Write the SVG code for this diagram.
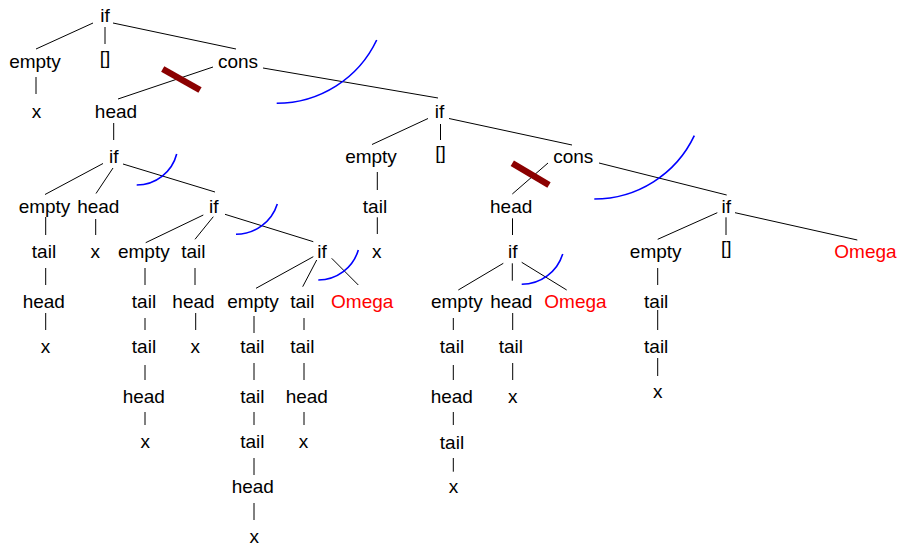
<svg xmlns="http://www.w3.org/2000/svg" width="901" height="548" viewBox="0 0 901 548">
<style>
text{font-family:"Liberation Sans",Arial,sans-serif;font-size:19px;fill:#000;text-anchor:middle}
text.om{fill:#ff0000}
#connectors line{stroke:#000;stroke-width:1}
.arc{fill:none;stroke:#0000ff;stroke-width:1.6}
.cut{stroke:#8b0000;stroke-width:6.5}
</style>
<rect width="901" height="548" fill="#fff"/>
<g id="connectors">
<line x1="93" y1="23" x2="36" y2="49"/>
<line x1="105" y1="27" x2="105" y2="44"/>
<line x1="113" y1="23" x2="236" y2="49"/>
<line x1="36" y1="77" x2="36" y2="94"/>
<line x1="213" y1="67" x2="118" y2="99"/>
<line x1="263" y1="68" x2="438" y2="98"/>
<line x1="113.7" y1="123" x2="113.7" y2="140"/>
<line x1="428" y1="118.5" x2="372" y2="144.5"/>
<line x1="440.5" y1="124" x2="440.5" y2="140"/>
<line x1="449" y1="118.5" x2="572" y2="145"/>
<line x1="103" y1="163.5" x2="45" y2="194.5"/>
<line x1="113" y1="168" x2="96" y2="193.5"/>
<line x1="123" y1="164" x2="215" y2="192"/>
<line x1="377.3" y1="172" x2="377.3" y2="190"/>
<line x1="548" y1="163" x2="512.3" y2="194"/>
<line x1="599" y1="163" x2="726.7" y2="195"/>
<line x1="45.7" y1="217" x2="45.7" y2="235"/>
<line x1="95.7" y1="219" x2="95.7" y2="235"/>
<line x1="203.3" y1="215" x2="145.7" y2="242.7"/>
<line x1="213.3" y1="216.7" x2="195" y2="239.3"/>
<line x1="225" y1="214.3" x2="313.3" y2="241.7"/>
<line x1="377.3" y1="217.3" x2="377.3" y2="234"/>
<line x1="512.5" y1="218.3" x2="512.5" y2="235"/>
<line x1="717.3" y1="212.7" x2="657.7" y2="239.3"/>
<line x1="726" y1="217.3" x2="726" y2="235"/>
<line x1="735" y1="212.7" x2="857.3" y2="240"/>
<line x1="45.7" y1="268" x2="45.7" y2="285"/>
<line x1="145" y1="268" x2="145" y2="285"/>
<line x1="195" y1="268" x2="195" y2="285"/>
<line x1="313.3" y1="256.7" x2="256" y2="288.3"/>
<line x1="316.7" y1="260" x2="302.7" y2="286.7"/>
<line x1="331.7" y1="258.3" x2="358.3" y2="285"/>
<line x1="503.3" y1="263.3" x2="458.3" y2="290"/>
<line x1="512.3" y1="263.3" x2="512.3" y2="280.7"/>
<line x1="521.7" y1="262.3" x2="566.7" y2="290"/>
<line x1="657.7" y1="268" x2="657.7" y2="285"/>
<line x1="45.7" y1="313" x2="45.7" y2="330"/>
<line x1="145" y1="318" x2="145" y2="330"/>
<line x1="195.7" y1="313" x2="195.7" y2="330"/>
<line x1="254" y1="316" x2="254" y2="333"/>
<line x1="304" y1="318" x2="304" y2="330"/>
<line x1="453.3" y1="318" x2="453.3" y2="330"/>
<line x1="512.7" y1="313" x2="512.7" y2="330"/>
<line x1="657.7" y1="310" x2="657.7" y2="330"/>
<line x1="145" y1="365" x2="145" y2="380"/>
<line x1="254" y1="363" x2="254" y2="380"/>
<line x1="304" y1="363" x2="304" y2="380"/>
<line x1="453.3" y1="365" x2="453.3" y2="380"/>
<line x1="512.7" y1="363" x2="512.7" y2="380"/>
<line x1="657.7" y1="358" x2="657.7" y2="376"/>
<line x1="145" y1="412" x2="145" y2="425"/>
<line x1="254" y1="412" x2="254" y2="425"/>
<line x1="304" y1="412" x2="304" y2="425"/>
<line x1="453.3" y1="412" x2="453.3" y2="425"/>
<line x1="254" y1="458" x2="254" y2="475"/>
<line x1="453.3" y1="458" x2="453.3" y2="471.7"/>
<line x1="254" y1="503" x2="254" y2="520"/>
</g>
<g id="marks">
<path class="arc" d="M276.7 103.3 A110.6 110.6 0 0 0 376.7 40"/>
<path class="arc" d="M594.3 199 A110.6 110.6 0 0 0 694.3 135.7"/>
<path class="arc" d="M136.7 185 A41.3 41.3 0 0 0 176.7 154"/>
<path class="arc" d="M236 234.3 A43.3 43.3 0 0 0 277.3 204"/>
<path class="arc" d="M318.3 280 A41.7 41.7 0 0 0 358.3 250"/>
<path class="arc" d="M521.7 284.3 A42.9 42.9 0 0 0 562.7 254"/>
<line class="cut" x1="162.7" y1="69" x2="200" y2="90"/>
<line class="cut" x1="512.3" y1="163.3" x2="549" y2="185"/>
</g>
<g id="n0"><text x="105" y="22">if</text></g>
<g id="n1"><text x="35" y="68">empty</text></g>
<g id="n2"><text x="105" y="64">[]</text></g>
<g id="n3"><text x="238" y="68">cons</text></g>
<g id="n4"><text x="36.5" y="118">x</text></g>
<g id="n5"><text x="116" y="118">head</text></g>
<g id="n6"><text x="439.5" y="118">if</text></g>
<g id="n7"><text x="113.8" y="163">if</text></g>
<g id="n8"><text x="371" y="163">empty</text></g>
<g id="n9"><text x="440.5" y="159">[]</text></g>
<g id="n10"><text x="573.3" y="163">cons</text></g>
<g id="n11"><text x="44.5" y="213">empty</text></g>
<g id="n12"><text x="98.3" y="213">head</text></g>
<g id="n13"><text x="213.8" y="213">if</text></g>
<g id="n14"><text x="375" y="213">tail</text></g>
<g id="n15"><text x="511.2" y="213">head</text></g>
<g id="n16"><text x="726.3" y="213">if</text></g>
<g id="n17"><text x="44" y="258">tail</text></g>
<g id="n18"><text x="95.2" y="258">x</text></g>
<g id="n19"><text x="143.8" y="258">empty</text></g>
<g id="n20"><text x="193.3" y="258">tail</text></g>
<g id="n21"><text x="322" y="258">if</text></g>
<g id="n22"><text x="376.8" y="258">x</text></g>
<g id="n23"><text x="512.8" y="258">if</text></g>
<g id="n24"><text x="655.7" y="258">empty</text></g>
<g id="n25"><text x="726.3" y="254">[]</text></g>
<g id="n26"><text class="om" x="865.5" y="258">Omega</text></g>
<g id="n27"><text x="43.8" y="308">head</text></g>
<g id="n28"><text x="144" y="308">tail</text></g>
<g id="n29"><text x="193.5" y="308">head</text></g>
<g id="n30"><text x="253" y="308">empty</text></g>
<g id="n31"><text x="302.3" y="308">tail</text></g>
<g id="n32"><text class="om" x="362.2" y="308">Omega</text></g>
<g id="n33"><text x="456.8" y="308">empty</text></g>
<g id="n34"><text x="511.3" y="308">head</text></g>
<g id="n35"><text class="om" x="575.5" y="308">Omega</text></g>
<g id="n36"><text x="656.2" y="308">tail</text></g>
<g id="n37"><text x="45.5" y="353">x</text></g>
<g id="n38"><text x="144" y="353">tail</text></g>
<g id="n39"><text x="195.2" y="353">x</text></g>
<g id="n40"><text x="252.3" y="353">tail</text></g>
<g id="n41"><text x="302.3" y="353">tail</text></g>
<g id="n42"><text x="452" y="353">tail</text></g>
<g id="n43"><text x="510.8" y="353">tail</text></g>
<g id="n44"><text x="656.2" y="353">tail</text></g>
<g id="n45"><text x="143.8" y="403">head</text></g>
<g id="n46"><text x="252.3" y="403">tail</text></g>
<g id="n47"><text x="306.8" y="403">head</text></g>
<g id="n48"><text x="451.8" y="403">head</text></g>
<g id="n49"><text x="512.8" y="403">x</text></g>
<g id="n50"><text x="657.8" y="398">x</text></g>
<g id="n51"><text x="145.2" y="448">x</text></g>
<g id="n52"><text x="252.3" y="448">tail</text></g>
<g id="n53"><text x="303.5" y="448">x</text></g>
<g id="n54"><text x="452" y="449">tail</text></g>
<g id="n55"><text x="252.8" y="493">head</text></g>
<g id="n56"><text x="453.5" y="493">x</text></g>
<g id="n57"><text x="254.2" y="543">x</text></g>
</svg>
